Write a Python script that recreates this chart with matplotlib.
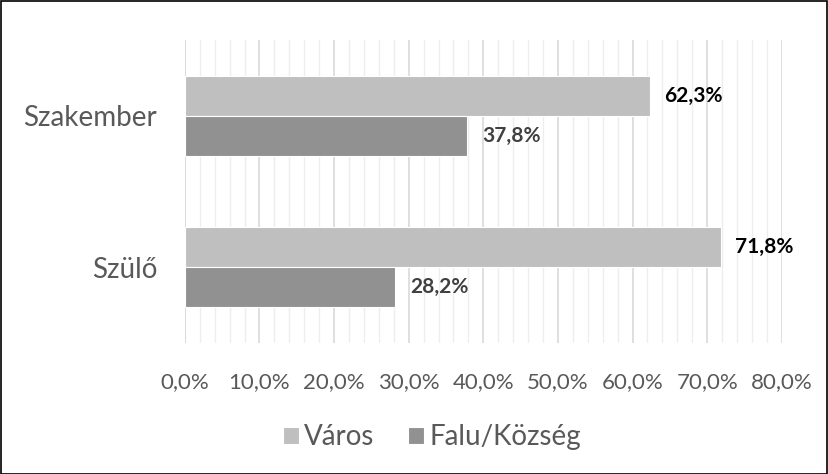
import matplotlib
matplotlib.use("Agg")
import matplotlib.pyplot as plt
from matplotlib.ticker import MultipleLocator, FuncFormatter

categories = ["Szülő", "Szakember"]
varos = [71.8, 62.3]
falu = [28.2, 37.8]
series_names = ["Város", "Falu/Község"]

plt.rcParams['font.family'] = ['Lato', 'DejaVu Sans']

fig = plt.figure(figsize=(8.29, 4.74), dpi=100)
ax = fig.add_axes([0.223, 0.276, 0.72, 0.64])

h = 0.264
ypos = list(range(len(categories)))
b1 = ax.barh([y + h / 2 for y in ypos], varos, height=h, color="#bfbfbf",
             edgecolor="white", linewidth=0.8, label=series_names[0], zorder=3)
b2 = ax.barh([y - h / 2 for y in ypos], falu, height=h, color="#919191",
             edgecolor="white", linewidth=0.8, label=series_names[1], zorder=3)

for bar, v in zip(b1, varos):
    ax.text(v + 2.0, bar.get_y() + bar.get_height() / 2, f"{v:.1f}%".replace(".", ","),
            va="center", ha="left", fontsize=15, fontweight="bold", color="black")
for bar, v in zip(b2, falu):
    ax.text(v + 2.0, bar.get_y() + bar.get_height() / 2, f"{v:.1f}%".replace(".", ","),
            va="center", ha="left", fontsize=15, fontweight="bold", color="#404040")

ax.set_xlim(0, 80)
ax.set_ylim(-0.5, 1.5)
ax.xaxis.set_major_locator(MultipleLocator(10))
ax.xaxis.set_minor_locator(MultipleLocator(2))
ax.xaxis.set_major_formatter(FuncFormatter(lambda x, p: f"{x:.1f}%".replace(".", ",")))
ax.grid(axis="x", which="major", color="#d9d9d9", linewidth=1.2, zorder=0)
ax.grid(axis="x", which="minor", color="#eeeeee", linewidth=1.0, zorder=0)
ax.set_yticks(ypos)
ax.set_yticklabels(categories)
ax.tick_params(axis="x", which="both", length=0, labelsize=16, colors="#595959", pad=21)
ax.tick_params(axis="y", length=0, labelsize=20, colors="#595959", pad=20)
for s in ax.spines.values():
    s.set_visible(False)
ax.axvline(0, color="#d9d9d9", linewidth=1.2, zorder=1)

ax.legend(loc="center", bbox_to_anchor=(0.414, -0.31), ncol=2, frameon=False,
          fontsize=20, labelcolor="#595959", handlelength=0.58, handleheight=0.58,
          handletextpad=0.2, columnspacing=1.2)

fig.patches.append(plt.Rectangle((0.001, 0.001), 0.997, 0.997, transform=fig.transFigure,
                                 fill=False, edgecolor="black", linewidth=1.2))

fig.savefig("out.png", dpi=100)
